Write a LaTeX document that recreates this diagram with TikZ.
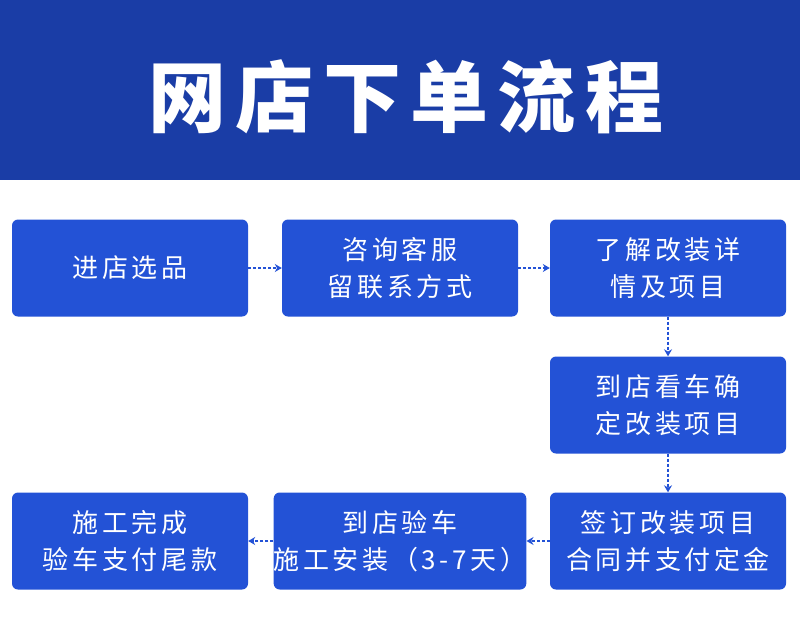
\documentclass[tikz,border=0pt]{standalone}
\usepackage{fontspec}
\newfontfamily\cjk{Noto Sans CJK SC}
\newfontfamily\cjkbody[LetterSpace=14]{Noto Sans CJK SC}
\newfontfamily\cjktitle[LetterSpace=12]{Noto Sans CJK SC}
\usetikzlibrary{arrows.meta}
\definecolor{hdr}{HTML}{1A3DA6}
\definecolor{bx}{HTML}{2352D6}
\begin{document}
\begin{tikzpicture}[x=1pt,y=-1pt,
  stepbox/.style={fill=bx,rounded corners=6pt,minimum width=236pt,minimum height=97pt,text=white,align=center,font=\cjkbody\fontsize{26}{37}\selectfont,inner sep=0pt},
  conn/.style={draw=bx,densely dashed,line width=1.6pt,-{Stealth[length=7pt,width=8pt]}}]
\useasboundingbox (0,0) rectangle (800,630);
\fill[hdr] (0,0) rectangle (800,180);
\node[text=white,font=\cjktitle\bfseries\fontsize{78}{86}\selectfont] (title) at (406,97) {网店下单流程};
\node[stepbox] (a) at (130,268) {进店选品};
\node[stepbox] (b) at (400,268) {咨询客服\\留联系方式};
\node[stepbox] (c) at (668,268) {了解改装详\\情及项目};
\node[stepbox] (d) at (668,405) {到店看车确\\定改装项目};
\node[stepbox] (e) at (668,541) {签订改装项目\\合同并支付定金};
\node[stepbox] (f) at (400,541) {到店验车\\施工安装（3-7天）};
\node[stepbox] (g) at (130,541) {施工完成\\验车支付尾款};
\draw[conn] (a) -- (b);
\draw[conn] (b) -- (c);
\draw[conn] (c) -- (d);
\draw[conn] (d) -- (e);
\draw[conn] (e) -- (f);
\draw[conn] (f) -- (g);
\end{tikzpicture}
\end{document}
